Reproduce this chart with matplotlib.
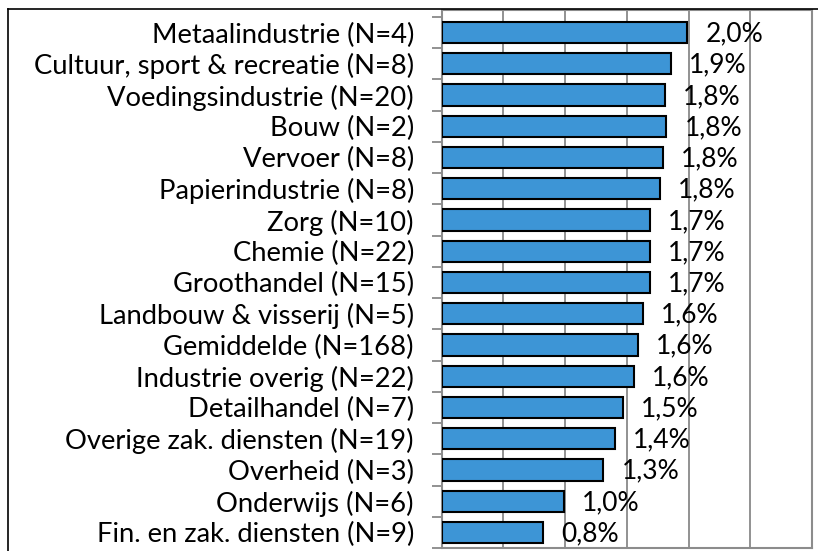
import matplotlib
matplotlib.use("Agg")
import matplotlib.pyplot as plt
from matplotlib.lines import Line2D

plt.rcParams["font.family"] = ["Lato", "DejaVu Sans"]

sectoren = ["Metaalindustrie (N=4)", "Cultuur, sport & recreatie (N=8)",
            "Voedingsindustrie (N=20)", "Bouw (N=2)", "Vervoer (N=8)",
            "Papierindustrie (N=8)", "Zorg (N=10)", "Chemie (N=22)",
            "Groothandel (N=15)", "Landbouw & visserij (N=5)",
            "Gemiddelde (N=168)", "Industrie overig (N=22)",
            "Detailhandel (N=7)", "Overige zak. diensten (N=19)",
            "Overheid (N=3)", "Onderwijs (N=6)", "Fin. en zak. diensten (N=9)"]
percentages = [1.99, 1.86, 1.81, 1.82, 1.79, 1.77, 1.69, 1.69, 1.69,
               1.63, 1.59, 1.56, 1.47, 1.40, 1.31, 0.99, 0.82]

W, H = 818, 551
fig = plt.figure(figsize=(W / 100, H / 100), dpi=100)
ax = fig.add_axes([441.7 / W, 1 - 548 / H, (812 - 441.7) / W, (548 - 10) / H])

posities = list(range(len(sectoren)))
ax.barh(posities, percentages, height=0.68, color="#3d95d6",
        edgecolor="black", linewidth=1.5, zorder=3)

ax.set_xlim(0, 3.0)
ax.set_ylim(16.5, -0.72)
ax.set_xticks([0.5 * i for i in range(7)])
ax.tick_params(axis="x", bottom=False, labelbottom=False)
ax.grid(axis="x", color="#7f7f7f", linewidth=1.2, zorder=0)

ax.set_yticks(posities)
ax.set_yticklabels(sectoren, fontsize=19.7)
ax.set_yticks([p - 0.5 for p in posities] + [16.5], minor=True)
ax.tick_params(axis="y", which="major", length=0, pad=20)
ax.tick_params(axis="y", which="minor", length=7, width=1.2,
               color="#7f7f7f", direction="out")

for sp in ax.spines.values():
    sp.set_color("#8c8c8c")
    sp.set_linewidth(1.5)

for p, v in zip(posities, percentages):
    ax.annotate(f"{v:.1f}%".replace(".", ","), xy=(v, p), xytext=(13, -1),
                textcoords="offset points", ha="left", va="center",
                fontsize=19, zorder=4)

# kader rond de grafiek
fig.add_artist(Line2D([8 / W, 8 / W], [0, 1 - 9 / H], color="black",
                      linewidth=1.2, transform=fig.transFigure))
fig.add_artist(Line2D([8 / W, 1], [1 - 9 / H, 1 - 9 / H], color="black",
                      linewidth=1.2, transform=fig.transFigure))

fig.savefig("out.png", dpi=100)
